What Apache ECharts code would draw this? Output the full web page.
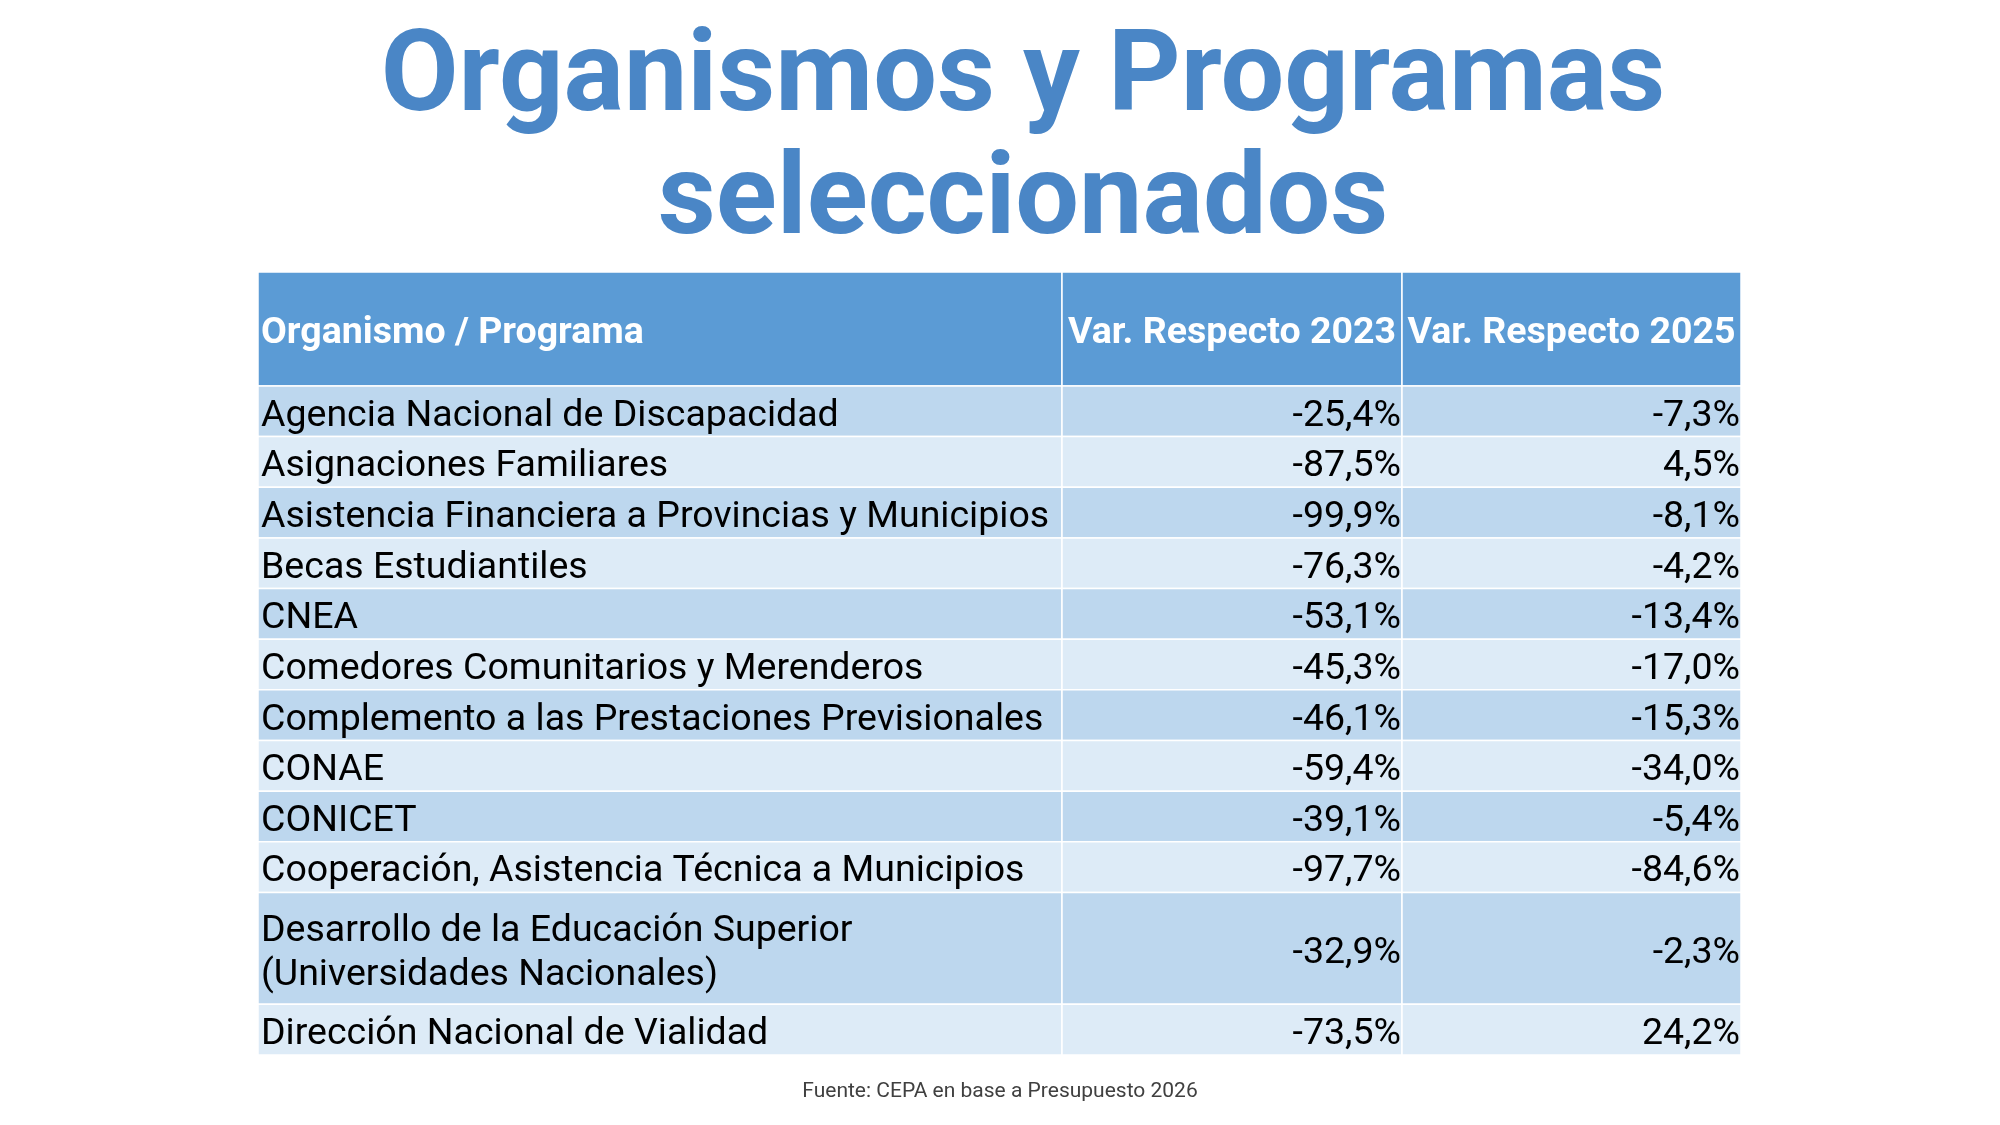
<!DOCTYPE html>
<html>
<head>
<meta charset="utf-8">
<title>Organismos y Programas seleccionados</title>
<script src="https://cdn.jsdelivr.net/npm/echarts@6/dist/echarts.min.js"></script>
<style>
  html, body { margin: 0; padding: 0; background: #ffffff; }
  #chart { width: 2000px; height: 1125px; }
</style>
</head>
<body>
<div id="chart"></div>
<script>
// datos
var headers = ['Organismo / Programa', 'Var. Respecto 2023', 'Var. Respecto 2025'];
var organismos = [
  'Agencia Nacional de Discapacidad',
  'Asignaciones Familiares',
  'Asistencia Financiera a Provincias y Municipios',
  'Becas Estudiantiles',
  'CNEA',
  'Comedores Comunitarios y Merenderos',
  'Complemento a las Prestaciones Previsionales',
  'CONAE',
  'CONICET',
  'Cooperación, Asistencia Técnica a Municipios',
  'Desarrollo de la Educación Superior\n(Universidades Nacionales)',
  'Dirección Nacional de Vialidad'
];
var var2023 = [-25.4, -87.5, -99.9, -76.3, -53.1, -45.3, -46.1, -59.4, -39.1, -97.7, -32.9, -73.5];
var var2025 = [-7.3, 4.5, -8.1, -4.2, -13.4, -17.0, -15.3, -34.0, -5.4, -84.6, -2.3, 24.2];

// layout (ancho de columnas en px, alto de filas en "lineas")
var colWidths = [804, 340, 339];
var headerUnits = 2.25;
var lineUnits = 1;
var doubleUnits = 2.21;

function fmt(v) {
  return v.toFixed(1).replace('.', ',') + '%';
}

var colStarts = [0];
colWidths.forEach(function (w, i) { colStarts.push(colStarts[i] + w); });
var totalWidth = colStarts[colStarts.length - 1];

// filas: encabezado + datos
var rows = [{ kind: 'header', cells: headers, start: 0, end: headerUnits }];
var y = headerUnits;
organismos.forEach(function (name, i) {
  var h = name.indexOf('\n') >= 0 ? doubleUnits : lineUnits;
  rows.push({ kind: i % 2 === 0 ? 'odd' : 'even', cells: [name, fmt(var2023[i]), fmt(var2025[i])], start: y, end: y + h });
  y += h;
});
var totalUnits = y;

var cellData = [];
rows.forEach(function (r, ri) {
  r.cells.forEach(function (txt, ci) {
    cellData.push({ value: [colStarts[ci], r.start, colStarts[ci + 1], r.end, ri, ci], text: txt, kind: r.kind });
  });
});

var fills = { header: '#5b9bd5', odd: '#bdd7ee', even: '#ddebf7' };

var chart = echarts.init(document.getElementById('chart'), null, { renderer: 'canvas' });

chart.setOption({
  backgroundColor: '#ffffff',
  animation: false,
  title: [{
    text: 'Organismos y Programas\nseleccionados',
    left: 1018,
    top: 15,
    textAlign: 'center',
    textStyle: {
      fontFamily: 'Roboto',
      fontWeight: 'bold',
      fontSize: 113,
      lineHeight: 123,
      color: '#4a86c6'
    }
  }, {
    text: 'Fuente: CEPA en base a Presupuesto 2026',
    left: 'center',
    top: 1076,
    textStyle: {
      fontFamily: 'Roboto',
      fontWeight: 'normal',
      fontSize: 21,
      color: '#404040'
    }
  }],
  grid: { left: 258, top: 272, width: totalWidth, height: 783 },
  xAxis: { type: 'value', min: 0, max: totalWidth, show: false },
  yAxis: { type: 'value', min: 0, max: totalUnits, inverse: true, show: false },
  series: [{
    type: 'custom',
    data: cellData,
    renderItem: function (params, api) {
      var item = cellData[params.dataIndex];
      var p1 = api.coord([api.value(0), api.value(1)]);
      var p2 = api.coord([api.value(2), api.value(3)]);
      var ci = api.value(5);
      var isHeader = item.kind === 'header';
      var tx, align;
      if (ci === 0) {
        tx = p1[0] + 3; align = 'left';
      } else if (isHeader) {
        tx = (p1[0] + p2[0]) / 2; align = 'center';
      } else {
        tx = p2[0] - 1; align = 'right';
      }
      return {
        type: 'group',
        children: [{
          type: 'rect',
          shape: { x: p1[0], y: p1[1], width: p2[0] - p1[0], height: p2[1] - p1[1] },
          style: { fill: fills[item.kind], stroke: '#ffffff', lineWidth: 1.5 }
        }, {
          type: 'text',
          style: {
            text: item.text,
            x: tx,
            y: (p1[1] + p2[1]) / 2 + 5,
            align: align,
            verticalAlign: 'middle',
            fontFamily: 'Roboto',
            fontSize: 37.5,
            fontWeight: isHeader ? 'bold' : 'normal',
            lineHeight: 44,
            fill: isHeader ? '#ffffff' : '#000000'
          }
        }]
      };
    }
  }]
});
</script>
</body>
</html>
